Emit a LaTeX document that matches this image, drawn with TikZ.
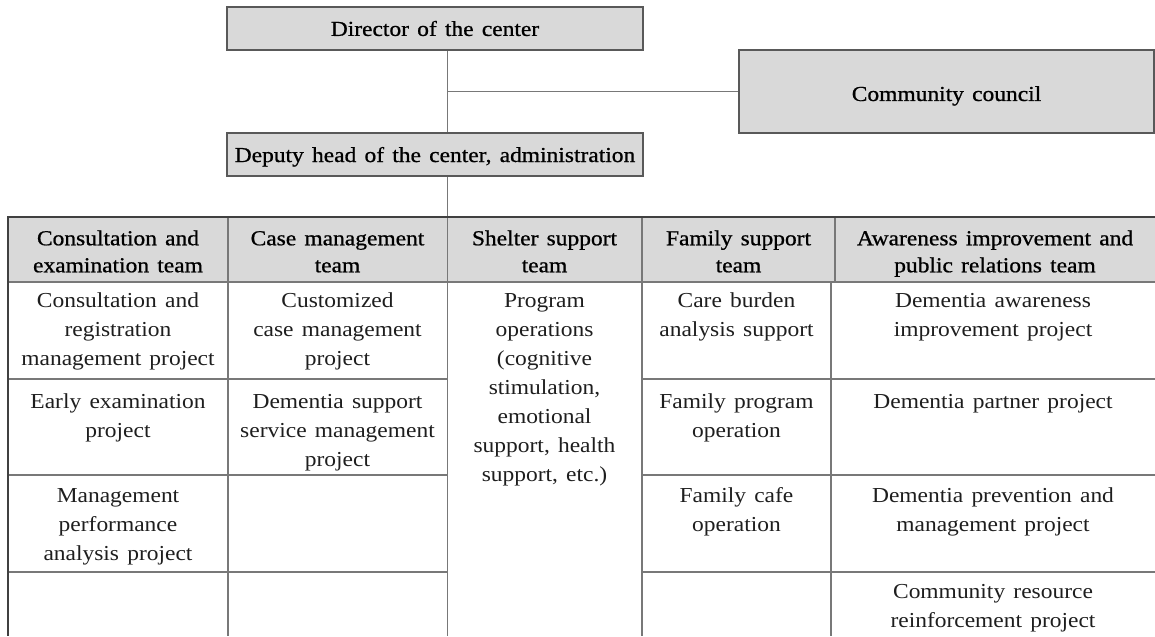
\documentclass[tikz,border=0pt]{standalone}
\usepackage{fontspec}
\setmainfont{Liberation Serif}[FakeStretch=1.1,WordSpace=1.4]
\newfontfamily\headfont{Liberation Serif}[FakeStretch=1.1,WordSpace=1.4,FakeBold=0.8]
\definecolor{boxfill}{RGB}{217,217,217}
\definecolor{boxline}{RGB}{89,89,89}
\definecolor{gridline}{RGB}{120,120,120}
\definecolor{frameline}{RGB}{64,64,64}
\definecolor{bodytext}{RGB}{30,30,30}
% strut that fixes the height of a first text line
\newcommand{\firstln}{\rule{0pt}{15pt}}
\begin{document}
\begin{tikzpicture}[x=0.75pt,y=-0.75pt,
  orgbox/.style={draw=boxline,fill=boxfill,line width=1.6pt,inner sep=0pt,
    font=\headfont\fontsize{16}{20}\selectfont},
  conn/.style={draw=gridline,line width=0.9pt},
  thin/.style={draw=gridline,line width=0.8pt},
  frame/.style={draw=frameline,line width=1.6pt},
  headtxt/.style={anchor=north,align=center,inner sep=0pt,
    font=\headfont\fontsize{16}{20.25}\selectfont},
  celltxt/.style={anchor=north,align=center,inner sep=0pt,text=bodytext,
    font=\fontsize{16}{21.75}\selectfont}]
\useasboundingbox (0,0) rectangle (1155,636);

% top of the hierarchy
\node[orgbox,minimum width=312pt,minimum height=32.25pt] (dir) at (435,28.5)
  {Director of the center};
\node[orgbox,minimum width=312pt,minimum height=32.25pt,text depth=0pt] (dep) at (435,154.5)
  {Deputy head of the center, administration};
\node[orgbox,minimum width=311.25pt,minimum height=62.25pt,text height=17.7pt,text depth=3.5pt]
  (council) at (946.5,91.5) {Community council};

\coordinate (spine) at (447.5,0);
\coordinate (tabletop) at (447.5,217);
\draw[conn] (dir.south -| spine) -- (dep.north -| spine);
\draw[conn] (spine |- council.west) -- (council.west);
\draw[conn] (dep.south -| spine) -- (tabletop);

% team table: header band and grid
\fill[boxfill] (8,217) rectangle (1155,282);
\draw[thin] (8,282) -- (1155,282);
\draw[thin] (228,217) -- (228,636);
\draw[thin] (447.5,217) -- (447.5,636);
\draw[thin] (642,217) -- (642,636);
\draw[thin] (835,217) -- (835,282);
\draw[thin] (831,282) -- (831,636);
\foreach \ry in {379,475,572}{
  \draw[thin] (8,\ry) -- (447.5,\ry);
  \draw[thin] (642,\ry) -- (1155,\ry);
}
\draw[frame] (7,217) -- (1155,217);
\draw[frame] (8,217) -- (8,636);

% team names
\node[headtxt] (h1) at (118,225)   {\firstln Consultation and\\examination team};
\node[headtxt] (h2) at (337.5,225) {\firstln Case management\\team};
\node[headtxt] (h3) at (544.5,225) {\firstln Shelter support\\team};
\node[headtxt] (h4) at (738.5,225) {\firstln Family support\\team};
\node[headtxt] (h5) at (995,225)   {\firstln Awareness improvement and\\public relations team};

% projects of each team
\node[celltxt] (c11) at (118,287) {\firstln Consultation and\\registration\\management project};
\node[celltxt] (c12) at (118,388) {\firstln Early examination\\project};
\node[celltxt] (c13) at (118,482) {\firstln Management\\performance\\analysis project};

\node[celltxt] (c21) at (337.5,287) {\firstln Customized\\case management\\project};
\node[celltxt] (c22) at (337.5,388) {\firstln Dementia support\\service management\\project};

\node[celltxt] (c31) at (544.5,287) {\firstln Program\\operations\\(cognitive\\stimulation,\\emotional\\support, health\\support, etc.)};

\node[celltxt] (c41) at (736.5,287) {\firstln Care burden\\analysis support};
\node[celltxt] (c42) at (736.5,388) {\firstln Family program\\operation};
\node[celltxt] (c43) at (736.5,482) {\firstln Family cafe\\operation};

\node[celltxt] (c51) at (993,287) {\firstln Dementia awareness\\improvement project};
\node[celltxt] (c52) at (993,388) {\firstln Dementia partner project};
\node[celltxt] (c53) at (993,482) {\firstln Dementia prevention and\\management project};
\node[celltxt] (c54) at (993,578) {\firstln Community resource\\reinforcement project};
\end{tikzpicture}
\end{document}
